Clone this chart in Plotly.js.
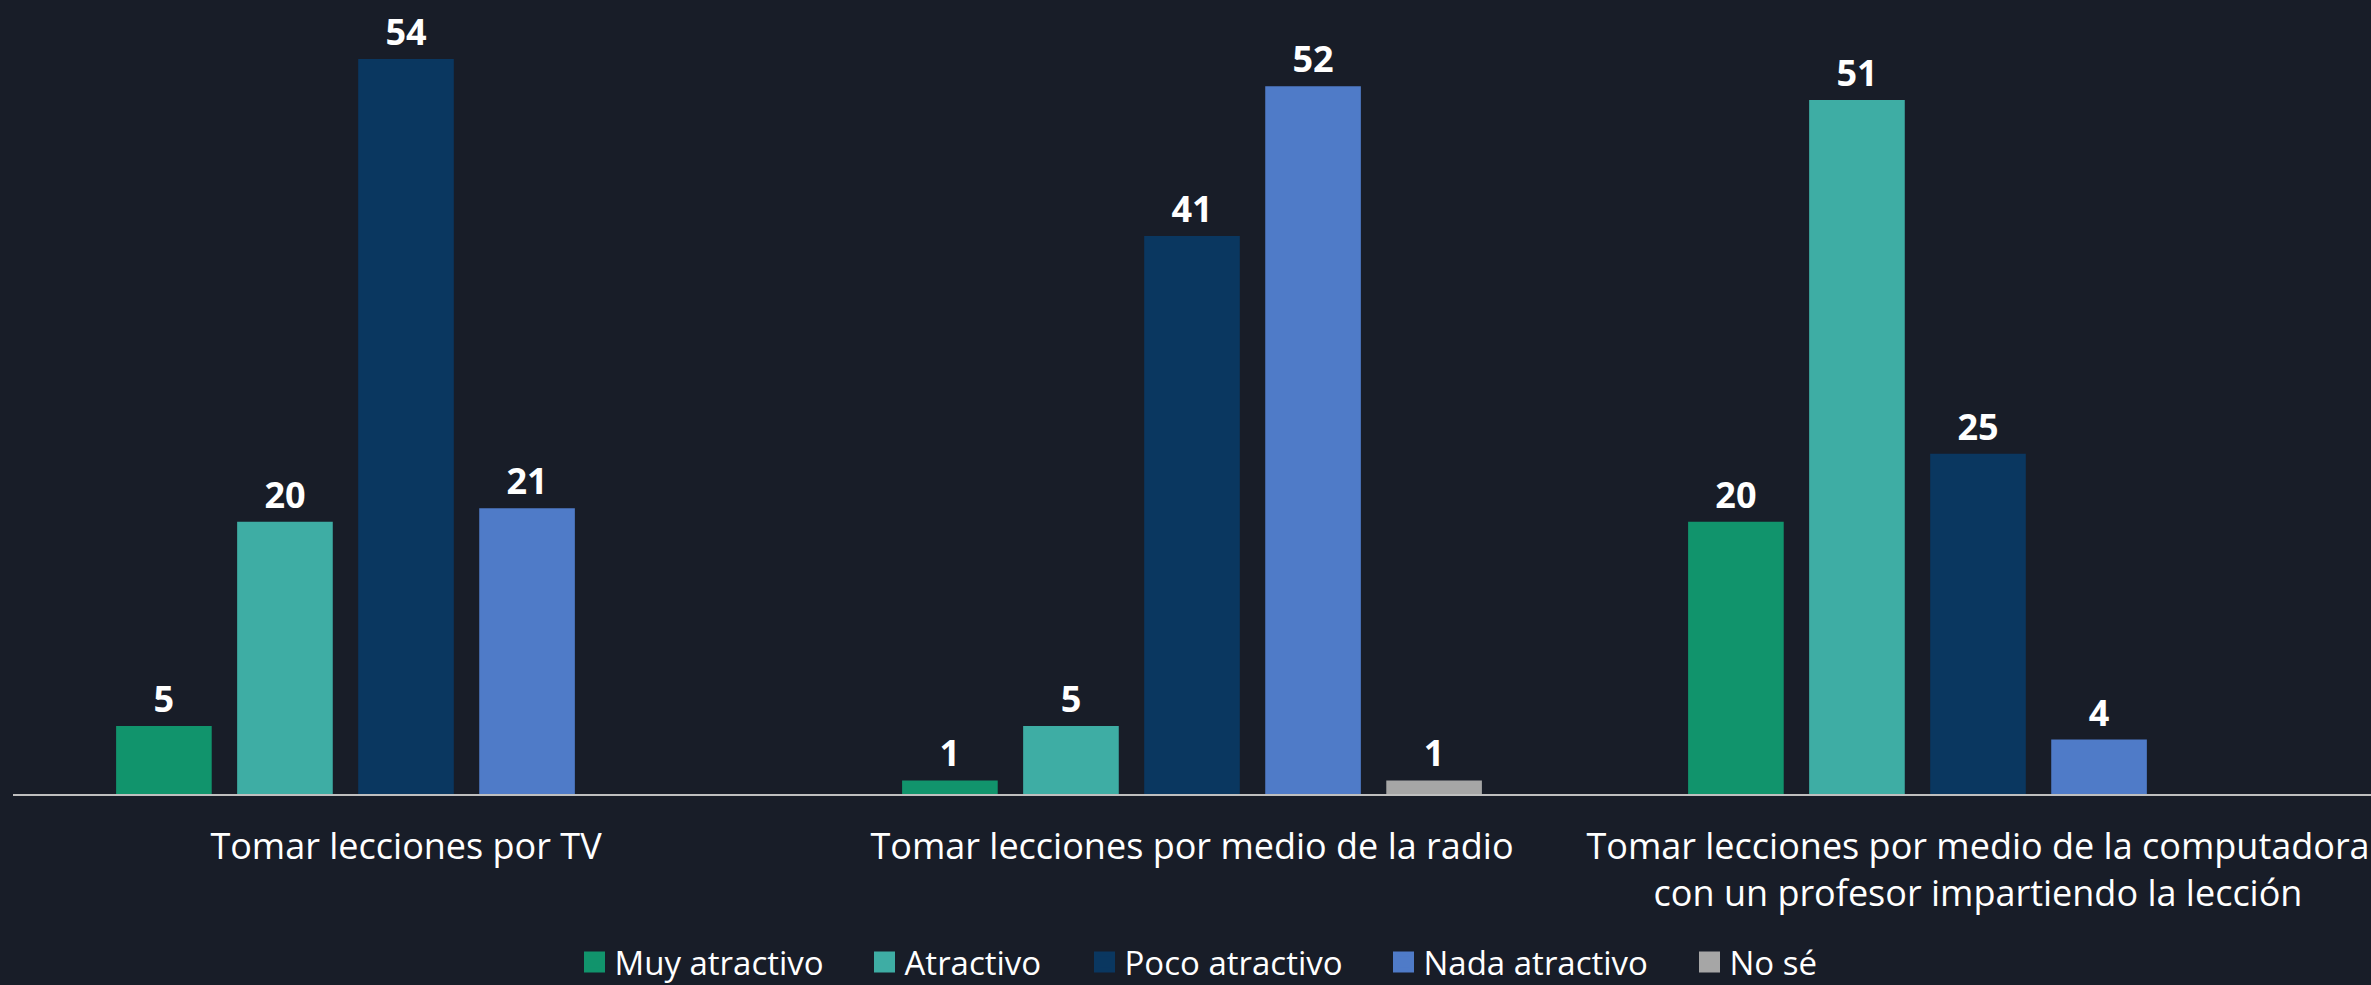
<!DOCTYPE html>
<html>
<head>
<meta charset="utf-8">
<script src="https://cdn.plot.ly/plotly-3.0.1.min.js"></script>
<style>
  html, body { margin: 0; padding: 0; background: #181D28; overflow: hidden; }
  #chart { width: 2371px; height: 985px; }
</style>
</head>
<body>
<div id="chart"></div>
<script>
const categories = [
  "Tomar lecciones por TV",
  "Tomar lecciones por medio de la radio",
  "Tomar lecciones por medio de la computadora<br>con un profesor impartiendo la lección"
];
const seriesNames = ["Muy atractivo", "Atractivo", "Poco atractivo", "Nada atractivo", "No sé"];
const muyAtractivo = [5, 1, 20];
const atractivo = [20, 5, 51];
const pocoAtractivo = [54, 41, 25];
const nadaAtractivo = [21, 52, 4];
const noSe = [null, 1, null];
const seriesValues = [muyAtractivo, atractivo, pocoAtractivo, nadaAtractivo, noSe];
const seriesColors = ["#11946C", "#3EADA4", "#0A3760", "#4F7BC8", "#A6A6A6"];

const FONT = "'Open Sans', 'Noto Sans', sans-serif";
const W = 2371, H = 985;

// bars (legend shown through legend-only marker traces below)
const barTraces = seriesNames.map((name, i) => ({
  type: "bar",
  name: name,
  x: categories,
  y: seriesValues[i],
  marker: { color: seriesColors[i] },
  text: seriesValues[i].map(v => v === null ? "" : String(v)),
  textposition: "outside",
  cliponaxis: false,
  textfont: { family: FONT, size: 36, color: "#FFFFFF", weight: 700 },
  showlegend: false,
  hoverinfo: "skip"
}));

const legendIds = ["legend", "legend2", "legend3", "legend4", "legend5"];
const legendTraces = seriesNames.map((name, i) => ({
  type: "scatter",
  mode: "markers",
  name: name,
  x: [categories[0]],
  y: [null],
  legend: legendIds[i],
  marker: { symbol: "square", size: 16, color: seriesColors[i], line: { color: seriesColors[i], width: 5 } },
  showlegend: true,
  hoverinfo: "skip"
}));

// left edge of each legend swatch (px)
const legendSwatchLeft = [584, 874, 1094, 1393, 1699];

const layout = {
  width: W,
  height: H,
  paper_bgcolor: "#181D28",
  plot_bgcolor: "#181D28",
  margin: { l: 13, r: 0, t: 0, b: 191, pad: 0 },
  barmode: "group",
  bargap: 0.23,
  bargroupgap: 0.21,
  font: { family: FONT, color: "#FFFFFF" },
  xaxis: {
    type: "category",
    range: [-0.5, 2.5],
    showline: true,
    linecolor: "#BFBFBF",
    linewidth: 2,
    showgrid: false,
    zeroline: false,
    ticks: "",
    ticklabelstandoff: 20,
    tickfont: { family: FONT, size: 36, color: "#FFFFFF" },
    fixedrange: true
  },
  yaxis: {
    range: [0, 58.34],
    visible: false,
    showgrid: false,
    zeroline: false,
    fixedrange: true
  },
  showlegend: true
};

legendIds.forEach((id, i) => {
  layout[id] = {
    orientation: "h",
    xref: "container",
    yref: "container",
    x: (legendSwatchLeft[i] - 9.5) / W,
    xanchor: "left",
    y: 1 - 962 / H,
    yanchor: "middle",
    font: { family: FONT, size: 33, color: "#FFFFFF" },
    bgcolor: "rgba(0,0,0,0)",
    borderwidth: 0
  };
});

Plotly.newPlot("chart", barTraces.concat(legendTraces), layout, { displayModeBar: false, staticPlot: true });
</script>
</body>
</html>
